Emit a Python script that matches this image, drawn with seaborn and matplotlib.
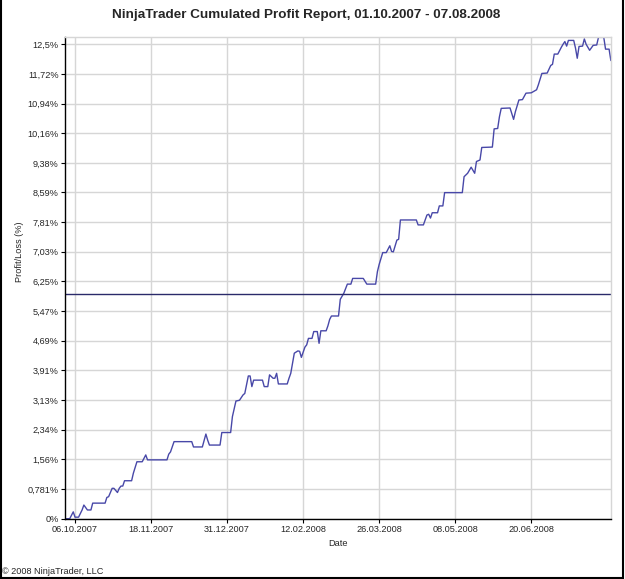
import matplotlib
matplotlib.use("Agg")
import matplotlib.pyplot as plt
from matplotlib.lines import Line2D
import seaborn as sns
import pandas as pd

# ---------------- data ----------------
dates = [
    "2007-10-01", "2007-10-03", "2007-10-05", "2007-10-06", "2007-10-08", "2007-10-10",
    "2007-10-11", "2007-10-13", "2007-10-15", "2007-10-16", "2007-10-23", "2007-10-24",
    "2007-10-25", "2007-10-27", "2007-10-28", "2007-10-30", "2007-10-31", "2007-11-01",
    "2007-11-02", "2007-11-03", "2007-11-07", "2007-11-08", "2007-11-10", "2007-11-13",
    "2007-11-15", "2007-11-16", "2007-11-27", "2007-11-28", "2007-11-29", "2007-12-01",
    "2007-12-11", "2007-12-12", "2007-12-17", "2007-12-19", "2007-12-20", "2007-12-21",
    "2007-12-27", "2007-12-28", "2008-01-02", "2008-01-03", "2008-01-05", "2008-01-07",
    "2008-01-09", "2008-01-10", "2008-01-12", "2008-01-13", "2008-01-14", "2008-01-15",
    "2008-01-20", "2008-01-21", "2008-01-23", "2008-01-24", "2008-01-26", "2008-01-27",
    "2008-01-28", "2008-01-29", "2008-02-03", "2008-02-04", "2008-02-05", "2008-02-07",
    "2008-02-09", "2008-02-10", "2008-02-11", "2008-02-13", "2008-02-14", "2008-02-15",
    "2008-02-17", "2008-02-18", "2008-02-20", "2008-02-21", "2008-02-22", "2008-02-25",
    "2008-02-26", "2008-02-27", "2008-02-28", "2008-03-03", "2008-03-04", "2008-03-06",
    "2008-03-08", "2008-03-10", "2008-03-11", "2008-03-17", "2008-03-19", "2008-03-24",
    "2008-03-25", "2008-03-26", "2008-03-28", "2008-03-30", "2008-04-01", "2008-04-02",
    "2008-04-03", "2008-04-05", "2008-04-06", "2008-04-07", "2008-04-16", "2008-04-17",
    "2008-04-20", "2008-04-22", "2008-04-23", "2008-04-24", "2008-04-25", "2008-04-28",
    "2008-04-29", "2008-05-01", "2008-05-02", "2008-05-12", "2008-05-13", "2008-05-15",
    "2008-05-17", "2008-05-19", "2008-05-20", "2008-05-22", "2008-05-23", "2008-05-29",
    "2008-05-30", "2008-06-01", "2008-06-02", "2008-06-03", "2008-06-08", "2008-06-10",
    "2008-06-11", "2008-06-13", "2008-06-15", "2008-06-17", "2008-06-20", "2008-06-23",
    "2008-06-24", "2008-06-26", "2008-06-29", "2008-07-01", "2008-07-02", "2008-07-03",
    "2008-07-05", "2008-07-07", "2008-07-08", "2008-07-09", "2008-07-10", "2008-07-11",
    "2008-07-14", "2008-07-15", "2008-07-16", "2008-07-17", "2008-07-19", "2008-07-20",
    "2008-07-21", "2008-07-23", "2008-07-25", "2008-07-27", "2008-07-28", "2008-07-31",
    "2008-08-01", "2008-08-03", "2008-08-04",
]
profit_pct = [
    0.00, 0.00, 0.18, 0.04, 0.04, 0.23,
    0.36, 0.23, 0.23, 0.41, 0.41, 0.56,
    0.58, 0.80, 0.80, 0.69, 0.80, 0.86,
    0.86, 1.00, 1.00, 1.20, 1.50, 1.50,
    1.68, 1.55, 1.55, 1.70, 1.76, 2.03,
    2.03, 1.89, 1.89, 2.23, 2.07, 1.94,
    1.94, 2.27, 2.27, 2.69, 3.10, 3.12,
    3.26, 3.30, 3.76, 3.76, 3.48, 3.65,
    3.65, 3.48, 3.48, 3.79, 3.70, 3.70,
    3.83, 3.55, 3.55, 3.70, 3.83, 4.36,
    4.42, 4.41, 4.25, 4.52, 4.58, 4.75,
    4.75, 4.93, 4.93, 4.62, 4.95, 4.95,
    5.08, 5.25, 5.34, 5.34, 5.78, 5.94,
    6.18, 6.18, 6.33, 6.33, 6.18, 6.18,
    6.51, 6.70, 7.01, 7.01, 7.19, 7.04,
    7.03, 7.34, 7.36, 7.87, 7.87, 7.74,
    7.74, 8.00, 8.02, 7.92, 8.06, 8.06,
    8.24, 8.24, 8.59, 8.59, 9.01, 9.10,
    9.26, 9.10, 9.41, 9.45, 9.78, 9.79,
    10.27, 10.28, 10.59, 10.81, 10.82, 10.52,
    10.72, 11.03, 11.04, 11.21, 11.22, 11.30,
    11.43, 11.73, 11.74, 11.94, 11.97, 12.24,
    12.24, 12.42, 12.50, 12.57, 12.45, 12.60,
    12.60, 12.40, 12.13, 12.44, 12.45, 12.64,
    12.50, 12.34, 12.47, 12.48, 12.68, 12.68,
    12.37, 12.37, 12.07,
]
reference_level = 5.91

y_ticks = [0, 0.78125, 1.5625, 2.34375, 3.125, 3.90625, 4.6875, 5.46875, 6.25,
           7.03125, 7.8125, 8.59375, 9.375, 10.15625, 10.9375, 11.71875, 12.5]
y_tick_labels = ["0%", "0,781%", "1,56%", "2,34%", "3,13%", "3,91%", "4,69%", "5,47%",
                 "6,25%", "7,03%", "7,81%", "8,59%", "9,38%", "10,16%", "10,94%",
                 "11,72%", "12,5%"]
x_tick_dates = ["2007-10-06", "2007-11-18", "2007-12-31", "2008-02-12",
                "2008-03-26", "2008-05-08", "2008-06-20"]
x_tick_labels = ["06.10.2007", "18.11.2007", "31.12.2007", "12.02.2008",
                 "26.03.2008", "08.05.2008", "20.06.2008"]

title = "NinjaTrader Cumulated Profit Report, 01.10.2007 - 07.08.2008"

# ---------------- plot ----------------
sns.set_style("white")
plt.rcParams["font.family"] = ["Liberation Sans", "DejaVu Sans"]

df = pd.DataFrame({"Date": pd.to_datetime(dates), "Profit": profit_pct})

fig = plt.figure(figsize=(6.25, 5.79), dpi=100)
ax = fig.add_axes([65 / 625, 60.3 / 579, (611 - 65) / 625, (518.7 - 37) / 579])

grid_c = "#d6d6d6"
ax.set_axisbelow(True)
ax.grid(True, color=grid_c, linewidth=1.0)

sns.lineplot(data=df, x="Date", y="Profit", ax=ax, color="#4848a8",
             linewidth=1.0, estimator=None)
ax.axhline(reference_level, color="#2a2a6a", linewidth=1.0)

ax.set_xlim(pd.Timestamp("2007-09-30 08:00"), pd.Timestamp("2008-08-04 02:00"))
ax.set_ylim(0, 12.69)
ax.set_yticks(y_ticks)
ax.set_yticklabels(y_tick_labels)
ax.set_xticks(pd.to_datetime(x_tick_dates))
ax.set_xticklabels(x_tick_labels)

small = 6.6
ax.tick_params(axis="both", labelsize=small, length=3, width=0.8, color="black",
               pad=1.5, direction="out")
ax.tick_params(axis="x", bottom=True, pad=1.5)
ax.tick_params(axis="y", left=True)

for s in ["left", "bottom"]:
    ax.spines[s].set_color("black")
    ax.spines[s].set_linewidth(1.0)
for s in ["top", "right"]:
    ax.spines[s].set_color(grid_c)
    ax.spines[s].set_linewidth(1.0)

ax.set_xlabel("")
ax.set_ylabel("")
fig.text(338 / 625, 1 - 543 / 579, "Date", ha="center", va="center", fontsize=small)
fig.text(19 / 625, 1 - 252 / 579, "Profit/Loss (%)", ha="center", va="center",
         rotation=90, fontsize=small)
fig.text(306 / 625, 1 - 15 / 579, title, ha="center", va="center",
         fontsize=9.7, fontweight="bold")
fig.text(2 / 625, 1 - 572 / 579, "\u00a9 2008 NinjaTrader, LLC", ha="left",
         va="center", fontsize=small)

# outer frame
W, H = 625, 579
for (x0, y0, x1, y1) in [(0.5, 0, 0.5, H), (0, 1.5, 622.5, 1.5), (622.5, 0, 622.5, H)]:
    fig.add_artist(Line2D([x0 / W, x1 / W], [y0 / H, y1 / H], color="black",
                          linewidth=1.5, transform=fig.transFigure))

fig.savefig("out.png", dpi=100)
